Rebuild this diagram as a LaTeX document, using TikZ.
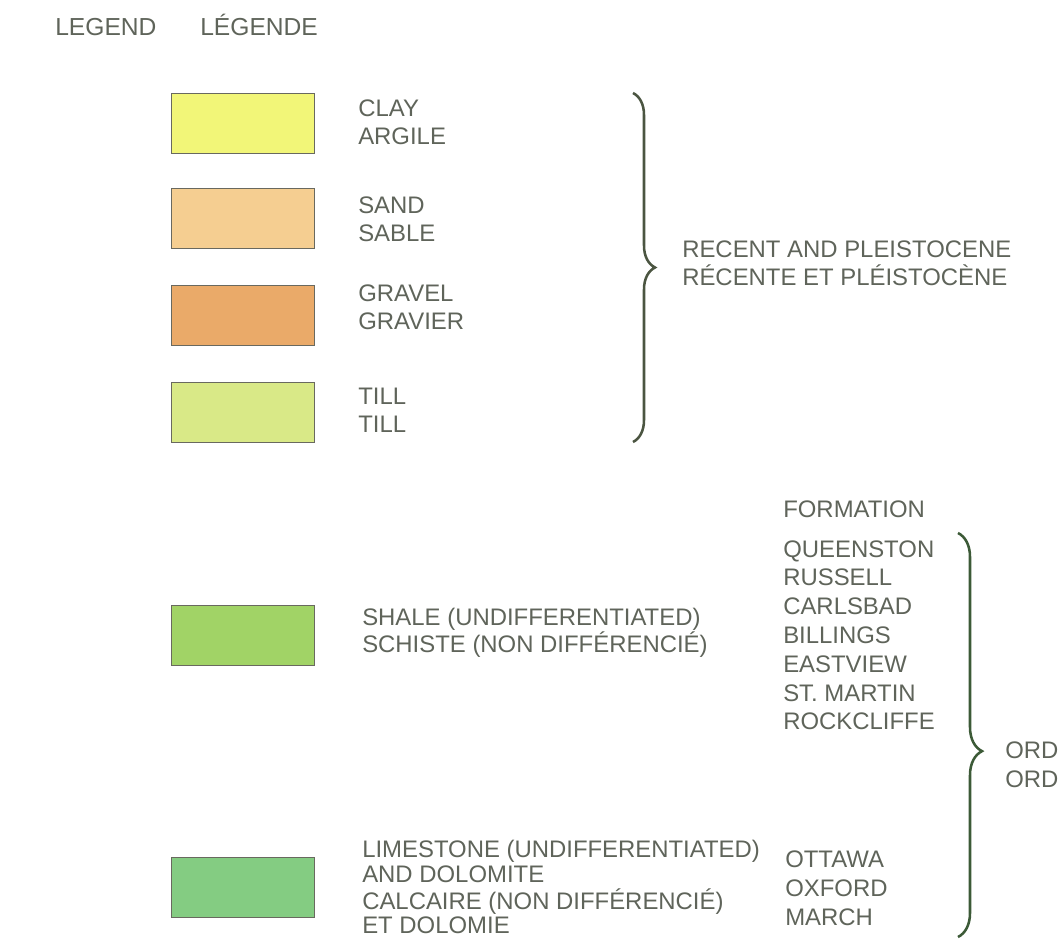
\documentclass[tikz,border=0pt]{standalone}
\usepackage{fontspec}
\setmainfont{Liberation Sans}
\usetikzlibrary{positioning,decorations.pathreplacing}

\definecolor{inkgrey}{RGB}{95,100,90}
\definecolor{swatchline}{RGB}{105,105,95}
\definecolor{bracegrey}{RGB}{75,85,65}
\definecolor{braceolive}{RGB}{60,90,55}
\definecolor{claycol}{RGB}{242,246,120}
\definecolor{sandcol}{RGB}{245,206,145}
\definecolor{gravelcol}{RGB}{234,170,105}
\definecolor{tillcol}{RGB}{217,233,135}
\definecolor{shalecol}{RGB}{161,211,102}
\definecolor{limecol}{RGB}{132,204,130}

\begin{document}
\begin{tikzpicture}[
		x=0.025cm, y=-0.025cm,
		every node/.style={
			inner sep=0pt,
			text=inkgrey,
			font=\fontsize{17}{20.5}\selectfont
		},
		swatch/.style={
			draw=swatchline,
			line width=0.9pt,
			minimum width=3.575cm,
			minimum height=1.5cm,
			anchor=north west
		},
		entry/.style={
			align=left,
			anchor=base west
		},
		curly/.style={
			line width=1.8pt,
			decorate,
			decoration={brace,amplitude=0.55cm}
		}
		]
		
		\useasboundingbox (0,0) rectangle (1061,951);
		
		\node (legend) [entry,font=\fontsize{17.5}{21}\selectfont] at (55,36) {LEGEND};
		\node (legende) [entry,font=\fontsize{17.5}{21}\selectfont] at (200,36) {LÉGENDE};
		
		\node (clay) [swatch,fill=claycol] at (171,93) {};
		\node (sand) [swatch,fill=sandcol] at (171,188) {};
		\node (gravel) [swatch,fill=gravelcol] at (171,285) {};
		\node (till) [swatch,fill=tillcol] at (171,382) {};
		\node (shale) [swatch,fill=shalecol] at (171,605) {};
		\node (lime) [swatch,fill=limecol] at (171,857) {};
		
		\node (claytext) [entry] at (358,145) {CLAY\\ARGILE};
		\node (sandtext) [entry] at (358,242) {SAND\\SABLE};
		\node (graveltext) [entry] at (358,330) {GRAVEL\\GRAVIER};
		\node (tilltext) [entry] at (358,433) {TILL\\TILL};
		\node (shaletext) [entry,font=\fontsize{17}{17.1}\selectfont] at (362,653)
		{SHALE (UNDIFFERENTIATED)\\SCHISTE (NON DIFFÉRENCIÉ)};
		\node (limetext) [entry,font=\fontsize{17}{17.8}\selectfont] at (362,933)
		{LIMESTONE (UNDIFFERENTIATED)\\AND DOLOMITE\\[1.4pt]
			CALCAIRE (NON DIFFÉRENCIÉ)\\[-1.4pt]ET DOLOMIE};
		
		\node (recent) [entry] at (682,286)
		{RECENT AND PLEISTOCENE\\RÉCENTE ET PLÉISTOCÈNE};
		
		\node (formation) [entry] at (783,518) {FORMATION};
		\node (upperfm) [entry] at (783,730)
		{QUEENSTON\\RUSSELL\\CARLSBAD\\BILLINGS\\EASTVIEW\\ST. MARTIN\\ROCKCLIFFE};
		\node (lowerfm) [entry] at (785,925) {OTTAWA\\OXFORD\\MARCH};
		
		\node (ord) [entry] at (1005,787) {ORD\\ORD};
		
		\coordinate (quattop) at (633,93);
		\coordinate (quatbot) at (633,442);
		\coordinate (ordtop) at (958,533);
		\coordinate (ordbot) at (958,937);
		
		\draw[curly,draw=bracegrey] (quattop) -- (quatbot);
		\draw[curly,draw=braceolive,decoration={amplitude=0.6cm,aspect=0.54}] (ordtop) -- (ordbot);
		
	\end{tikzpicture}
\end{document}
